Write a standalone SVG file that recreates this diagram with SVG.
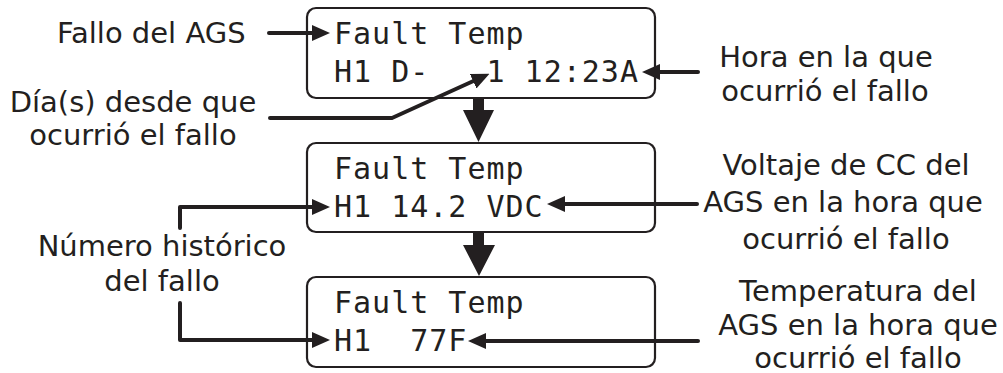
<svg xmlns="http://www.w3.org/2000/svg" width="1003" height="373" viewBox="0 0 1003 373">
  <style>
    .box { fill: #ffffff; stroke: #231f20; stroke-width: 2.2; }
    .mono { font-family: "DejaVu Sans Mono", "Liberation Mono", monospace; font-size: 30px; letter-spacing: 1px; fill: #231f20; }
    .lbl { font-family: "DejaVu Sans", Verdana, "Liberation Sans", sans-serif; font-size: 29px; fill: #231f20; text-anchor: middle; }
    .lbl-start { font-family: "DejaVu Sans", Verdana, "Liberation Sans", sans-serif; font-size: 29px; fill: #231f20; }
    .conn { fill: none; stroke: #231f20; stroke-width: 4; stroke-linecap: round; stroke-linejoin: round; }
    .block { fill: #231f20; stroke: none; }
  </style>
  <defs>
    <marker id="ah" markerUnits="userSpaceOnUse" markerWidth="18" markerHeight="16" refX="7" refY="8" orient="auto">
      <path d="M0,0 L18,8 L0,16 z" fill="#231f20"/>
    </marker>
  </defs>

  <g id="box1">
    <rect class="box" x="307" y="8" width="348" height="90" rx="9" ry="9"/>
    <text class="mono" x="334" y="44" xml:space="preserve">Fault Temp</text>
    <text class="mono" x="334" y="82" xml:space="preserve">H1 D-   1 12:23A</text>
  </g>
  <g id="box2">
    <rect class="box" x="307" y="143" width="348" height="89" rx="9" ry="9"/>
    <text class="mono" x="334" y="179" xml:space="preserve">Fault Temp</text>
    <text class="mono" x="334" y="217" xml:space="preserve">H1 14.2 VDC</text>
  </g>
  <g id="box3">
    <rect class="box" x="307" y="277" width="348" height="90" rx="9" ry="9"/>
    <text class="mono" x="334" y="313" xml:space="preserve">Fault Temp</text>
    <text class="mono" x="334" y="351" xml:space="preserve">H1  77F</text>
  </g>

  <g id="label-fallo">
    <text class="lbl-start" x="57" y="43">Fallo del AGS</text>
  </g>
  <g id="label-dias">
    <text class="lbl" x="133" y="112">Día(s) desde que</text>
    <text class="lbl" x="133" y="145">ocurrió el fallo</text>
  </g>
  <g id="label-hora">
    <text class="lbl" x="826" y="67">Hora en la que</text>
    <text class="lbl" x="825" y="101">ocurrió el fallo</text>
  </g>
  <g id="label-voltaje">
    <text class="lbl" x="846" y="175">Voltaje de CC del</text>
    <text class="lbl" x="843" y="212">AGS en la hora que</text>
    <text class="lbl" x="846" y="249">ocurrió el fallo</text>
  </g>
  <g id="label-numero">
    <text class="lbl" x="162" y="256">Número histórico</text>
    <text class="lbl" x="162" y="291">del fallo</text>
  </g>
  <g id="label-temp">
    <text class="lbl" x="858" y="301">Temperatura del</text>
    <text class="lbl" x="858" y="335">AGS en la hora que</text>
    <text class="lbl" x="858" y="368">ocurrió el fallo</text>
  </g>

  <g id="connectors">
    <path class="conn" d="M269,33 H319" marker-end="url(#ah)"/>
    <path class="conn" d="M270,118 H392 L479.5,78.3" marker-end="url(#ah)"/>
    <path class="conn" d="M698,72 H653" marker-end="url(#ah)"/>
    <path class="conn" d="M180,228 V207 H319" marker-end="url(#ah)"/>
    <path class="conn" d="M180,303 V340 H319" marker-end="url(#ah)"/>
    <path class="conn" d="M697,204 H558" marker-end="url(#ah)"/>
    <path class="conn" d="M698,341 H479" marker-end="url(#ah)"/>
    <polygon class="block" points="473,98 484,98 484,110 494,110 478.5,142 463,110 473,110"/>
    <polygon class="block" points="473,232 484,232 484,245 495,245 479,276 463,245 473,245"/>
  </g>
</svg>
